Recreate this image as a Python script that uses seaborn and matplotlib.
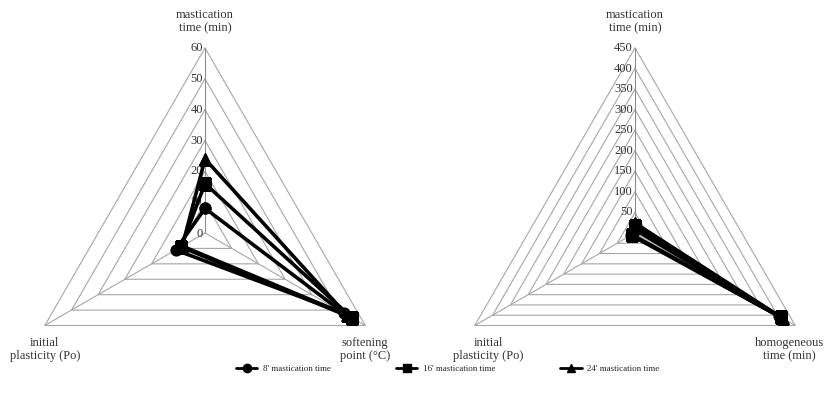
import numpy as np
import pandas as pd
import matplotlib
matplotlib.use("Agg")
import matplotlib.pyplot as plt
import seaborn as sns
from matplotlib.lines import Line2D

# ==========================
# Data
# ==========================
series = ["8' mastication time", "16' mastication time", "24' mastication time"]
series_markers = ["o", "s", "^"]

mastication_time = [8, 16, 24]        # min
softening_point = [52, 55, 53]        # °C
initial_plasticity = [11, 9, 8.5]     # Po
homogeneous_time = [405, 410, 415]    # min

left_labels = ["mastication\ntime (min)", "softening\npoint (°C)", "initial\nplasticity (Po)"]
right_labels = ["mastication\ntime (min)", "homogeneous\ntime (min)", "initial\nplasticity (Po)"]

left_ticks = [0, 10, 20, 30, 40, 50, 60]
right_ticks = [0, 50, 100, 150, 200, 250, 300, 350, 400, 450]

GRID = "#a6a6a6"

sns.set_theme(style="white")
plt.rcParams["font.family"] = ["Liberation Serif", "DejaVu Serif"]

fig = plt.figure(figsize=(8.29, 4.03), dpi=100)
W, H = 829, 403
R = 185  # radius in pixels


def radar_axes(cx, cy):
    return fig.add_axes([(cx - R) / W, (H - cy - R) / H, 2 * R / W, 2 * R / H],
                        projection="polar")


def draw_radar(ax, labels, columns, ticks, label_offsets):
    n = len(labels)
    theta = np.arange(n) * 2 * np.pi / n
    closed = np.append(theta, theta[0])
    rmax = ticks[-1]

    ax.set_theta_offset(np.pi / 2)
    ax.set_theta_direction(-1)
    ax.set_ylim(0, rmax)
    ax.set_axis_off()

    # triangular grid + spokes
    for t in ticks[1:]:
        ax.plot(closed, [t] * (n + 1), color=GRID, lw=0.8, clip_on=False, zorder=1)
    for i, th in enumerate(theta):
        ax.plot([th, th], [0, rmax], color="#8c8c8c" if i == 0 else GRID,
                lw=0.8, clip_on=False, zorder=1)

    # value labels along the top axis
    for t in ticks:
        ax.annotate(str(t), xy=(0, t), xytext=(-1.5, -1 if t == 0 else 0),
                    textcoords="offset points", ha="right", va="center",
                    fontsize=9, color="#333333", zorder=2)

    # category labels
    for i, (th, lab) in enumerate(zip(theta, labels)):
        dx, dy = label_offsets[i]
        ax.annotate(lab, xy=(th, rmax), xytext=(dx, dy), textcoords="offset points",
                    ha="center", va="bottom" if i == 0 else "top",
                    fontsize=9, color="#333333", linespacing=1.15,
                    annotation_clip=False)

    # data polygons
    rows = []
    for s_idx, name in enumerate(series):
        vals = [col[s_idx] for col in columns]
        for k in range(n + 1):
            rows.append({"series": name, "theta": closed[k], "r": vals[k % n]})
    df = pd.DataFrame(rows)

    sns.lineplot(
        data=df, x="theta", y="r",
        hue="series", style="series",
        markers=dict(zip(series, series_markers)), dashes=False,
        palette=["black"] * len(series),
        sort=False, estimator=None,
        lw=2.6, markersize=8, markeredgecolor="black",
        legend=False, ax=ax, zorder=3,
    )
    ax.set_xlabel("")
    ax.set_ylabel("")


ax_left = radar_axes(205, 233)
draw_radar(ax_left, left_labels,
           [mastication_time, softening_point, initial_plasticity],
           left_ticks, [(0, 10), (0, -8), (0, -8)])

ax_right = radar_axes(635, 233)
draw_radar(ax_right, right_labels,
           [mastication_time, homogeneous_time, initial_plasticity],
           right_ticks, [(0, 10), (-4, -8), (10, -8)])

# ==========================
# Legend
# ==========================
handles = [Line2D([], [], color="black", marker=m, lw=2, markersize=6)
           for m in series_markers]
fig.legend(handles, series, loc="center", bbox_to_anchor=(0.54, 1 - 369 / H),
           ncol=3, frameon=False, fontsize=6.5, handlelength=2.4,
           handletextpad=0.6, columnspacing=7.2)

fig.savefig("out.png", dpi=100)
